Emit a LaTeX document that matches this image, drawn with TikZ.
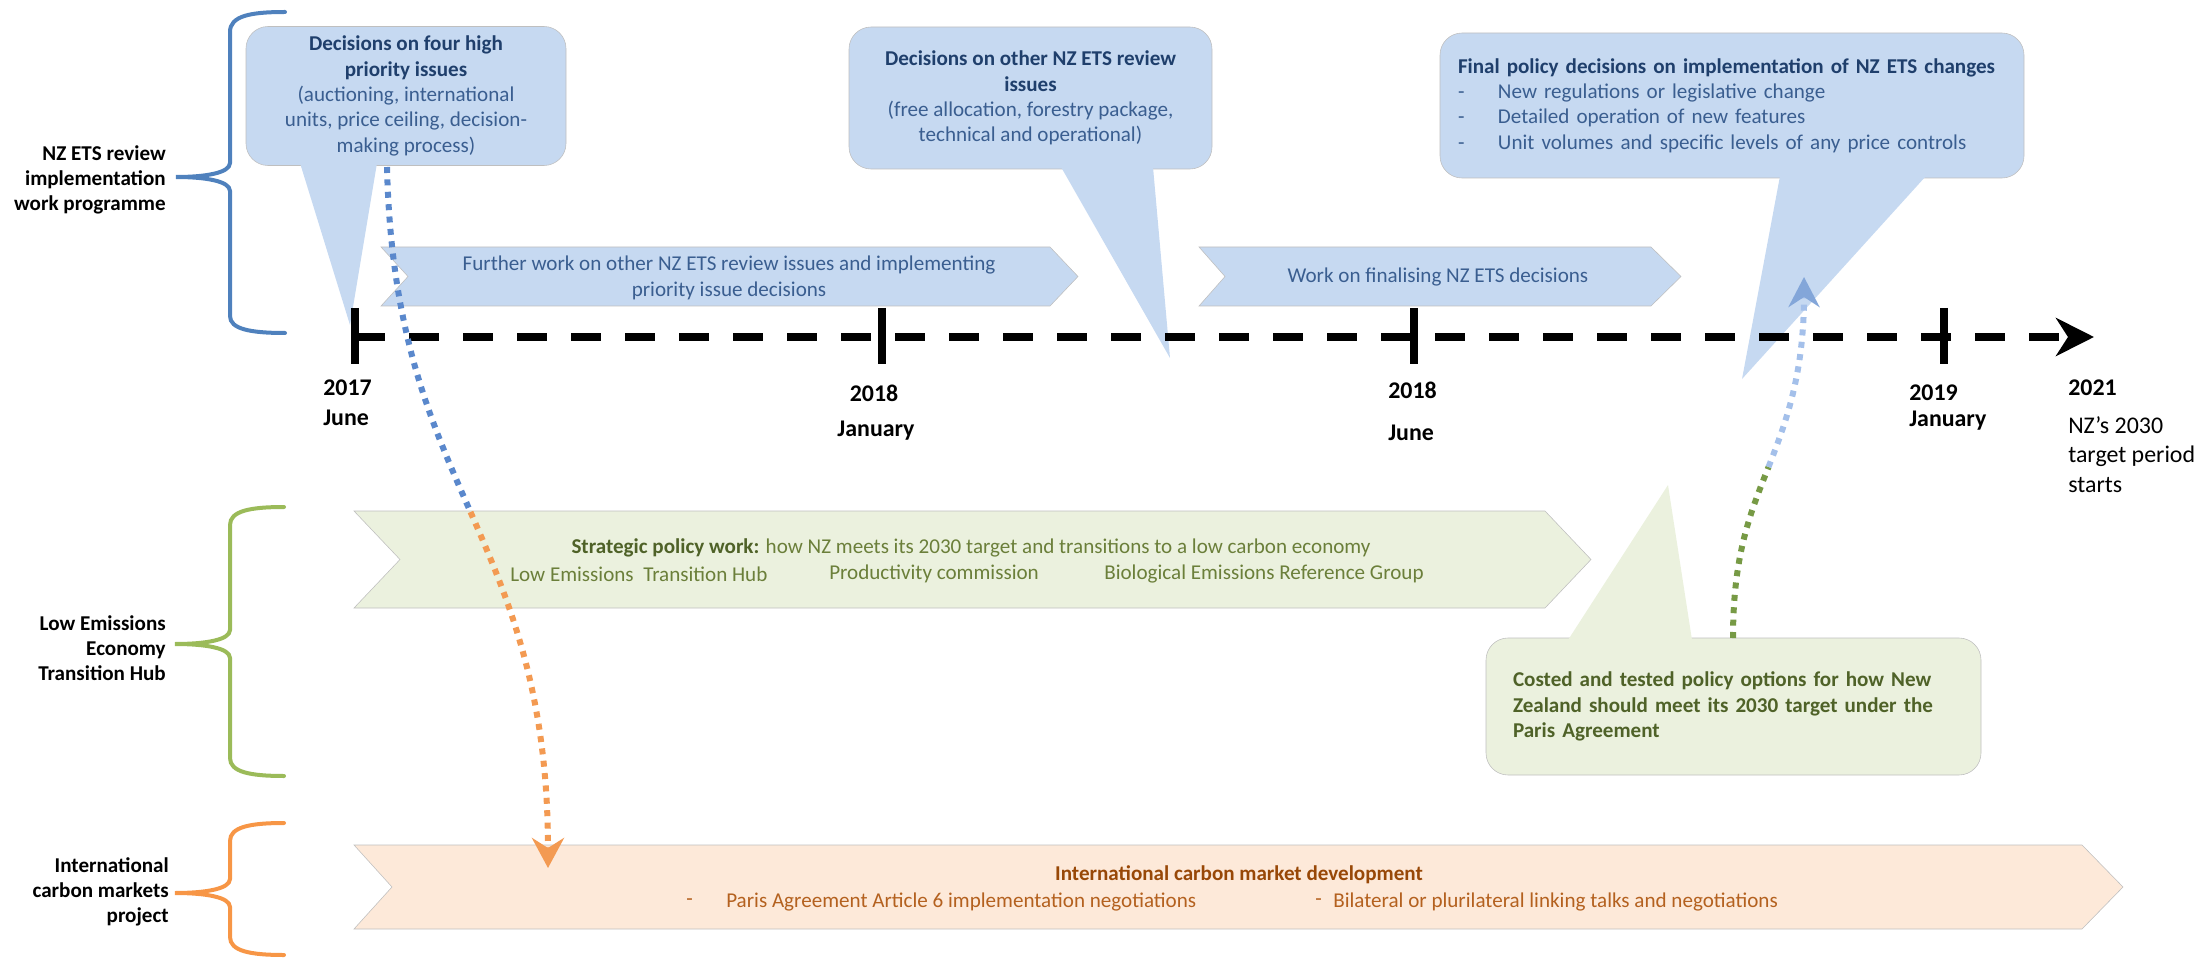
\documentclass[tikz,border=0pt]{standalone}
\usepackage{fontspec}
\setmainfont{Carlito}
\usetikzlibrary{arrows.meta, positioning}

\definecolor{boxblue}{HTML}{C6D9F1}
\definecolor{boxgreen}{HTML}{EBF1DE}
\definecolor{boxorange}{HTML}{FDE9D9}
\definecolor{textblue}{HTML}{3A5E90}
\definecolor{titleblue}{HTML}{1F3F6C}
\definecolor{textgreen}{HTML}{6B7F3A}
\definecolor{titlegreen}{HTML}{4F6228}
\definecolor{textorange}{HTML}{B4611F}
\definecolor{titleorange}{HTML}{984807}
\definecolor{braceblue}{HTML}{4F81BD}
\definecolor{bracegreen}{HTML}{9BBB59}
\definecolor{braceorange}{HTML}{F79646}
\definecolor{dotblue}{HTML}{5A88CC}
\definecolor{dotorange}{HTML}{F39A52}
\definecolor{dotgreen}{HTML}{779A45}
\definecolor{dotpale}{HTML}{A4C0EA}
\definecolor{edgegrey}{HTML}{BFBFBF}

\newcommand{\unitpx}{0.25mm}

\begin{document}
\begin{tikzpicture}[x=0.25mm, y=-0.25mm,
        % STYLES
        callout/.style={rectangle, rounded corners=5.5mm, draw=edgegrey, line width=0.4pt, inner sep=0pt},
        chevron/.style={draw=edgegrey, line width=0.4pt},
        bracket/.style={line width=1mm, line cap=round},
        body/.style={font=\fontsize{15}{18}\selectfont},
        bodybold/.style={font=\fontsize{15}{18}\selectfont\bfseries},
        datelabel/.style={font=\fontsize{17}{21}\selectfont\bfseries, inner sep=0pt},
        grouplabel/.style={font=\fontsize{15}{17.8}\selectfont\bfseries, align=right, inner sep=0pt},
        % ARROWS
        timeline/.style={line width=2mm, dash pattern=on 7.5mm off 6mm, -{Stealth[length=9.5mm, width=9.5mm, inset=3mm]}},
        tickmark/.style={line width=2mm},
        dotted_link/.style={line width=1.5mm, dash pattern=on 1.5mm off 1.6mm}
    ]
    \useasboundingbox (0,0) rectangle (2203,958);

    % ===================================
    % 1. Work streams (brackets and labels)
    % ===================================
    \draw[bracket, braceblue] (285,12) .. controls (250,12) and (230,16) .. (230,32) -- (230,163)
        .. controls (230,173) and (205,177) .. (176,177) .. controls (205,177) and (230,181) .. (230,191)
        -- (230,316) .. controls (230,329) and (250,333) .. (285,333);
    \draw[bracket, bracegreen] (284,507) .. controls (250,507) and (230,511) .. (230,525) -- (230,630)
        .. controls (230,640) and (205,644) .. (175,644) .. controls (205,644) and (230,648) .. (230,658)
        -- (230,758) .. controls (230,772) and (250,776) .. (284,776);
    \draw[bracket, braceorange] (284,823) .. controls (250,823) and (230,827) .. (230,841) -- (230,879)
        .. controls (230,889) and (205,893) .. (175,893) .. controls (205,893) and (230,897) .. (230,907)
        -- (230,937) .. controls (230,951) and (250,955) .. (284,955);

    \node[grouplabel, anchor=east] (ets) at (166,180) {NZ ETS review\\implementation\\work programme};
    \node[grouplabel, anchor=east] (hub) at (166,648) {Low Emissions\\Economy\\Transition Hub};
    \node[grouplabel, anchor=east] (icm) at (169,892) {International\\carbon markets\\project};

    % ===================================
    % 2. Decision callouts
    % ===================================
    \node[callout, fill=boxblue, minimum width=320*\unitpx, minimum height=139*\unitpx, body, text=textblue, align=center] (dec1) at (406,96)
        {\textbf{\color{titleblue}Decisions on four high}\\\textbf{\color{titleblue}priority issues}\\(auctioning, international\\units, price ceiling, decision-\\making process)};
    \fill[boxblue] (300,163) -- (350,325) -- (377,163) -- cycle;

    \node[callout, fill=boxblue, minimum width=363*\unitpx, minimum height=142*\unitpx, body, text=textblue, align=center] (dec2) at (1030.5,98)
        {\textbf{\color{titleblue}Decisions on other NZ ETS review}\\\textbf{\color{titleblue}issues}\\(free allocation, forestry package,\\technical and operational)};
    \fill[boxblue] (1061,167) -- (1170,358) -- (1153,167) -- cycle;

    \node[callout, fill=boxblue, minimum width=584*\unitpx, minimum height=145*\unitpx, body, text=textblue, align=left, text width=137mm] (dec3) at (1732,105.5)
        {\textbf{\color{titleblue}Final policy decisions on implementation of NZ ETS changes}\\
         \makebox[10mm][l]{-}New regulations or legislative change\\
         \makebox[10mm][l]{-}Detailed operation of new features\\
         \makebox[10mm][l]{-}Unit volumes and specific levels of any price controls};
    \fill[boxblue] (1780,176) -- (1742,379) -- (1926,176) -- cycle;

    \node[callout, fill=boxgreen, minimum width=495*\unitpx, minimum height=137*\unitpx, bodybold, text=titlegreen, align=left, text width=110.25mm] (costed) at (1733.5,706.5)
        {Costed and tested policy options for how New\\Zealand should meet its 2030 target under the\\Paris Agreement};
    \fill[boxgreen] (1568,640) -- (1668,485) -- (1692,640) -- cycle;

    % ===================================
    % 3. Work chevrons
    % ===================================
    \filldraw[chevron, fill=boxblue] (381,247) -- (1050,247) -- (1078,276.5) -- (1050,306) -- (381,306) -- (408,276.5) -- cycle;
    \node[font=\fontsize{15}{19}\selectfont, text=textblue, align=center] (work1) at (729,278)
        {Further work on other NZ ETS review issues and implementing\\priority issue decisions};

    \filldraw[chevron, fill=boxblue] (1199,247) -- (1651,247) -- (1681,276.5) -- (1651,306) -- (1199,306) -- (1225,276.5) -- cycle;
    \node[body, text=textblue] (work2) at (1438,277) {Work on finalising NZ ETS decisions};

    \filldraw[chevron, fill=boxgreen] (354,511) -- (1545,511) -- (1591,559.5) -- (1545,608) -- (354,608) -- (400,559.5) -- cycle;
    \node[body, text=textgreen] (strat) at (971,548)
        {\textbf{\color{titlegreen}Strategic policy work:} how NZ meets its 2030 target and transitions to a low carbon economy};
    \node[body, text=textgreen, anchor=west, inner sep=0pt] (lowhub) at (510,574) {Low Emissions\ \ Transition Hub};
    \node[body, text=textgreen, anchor=west, inner sep=0pt] (prodcom) at (829,574) {Productivity commission};
    \node[body, text=textgreen, anchor=west, inner sep=0pt] (bioref) at (1104,574) {Biological Emissions Reference Group};

    \filldraw[chevron, fill=boxorange] (354,845) -- (2082,845) -- (2123,887) -- (2082,929) -- (354,929) -- (392,887) -- cycle;
    \node[bodybold, text=titleorange] (icmdev) at (1239,875) {International carbon market development};
    \node[body, text=textorange, anchor=west, inner sep=0pt] (dash1) at (686,902) {-};
    \node[body, text=textorange, anchor=west, inner sep=0pt] (paris) at (726,902) {Paris Agreement Article 6 implementation negotiations};
    \node[body, text=textorange, anchor=west, inner sep=0pt] (dash2) at (1315,902) {-};
    \node[body, text=textorange, anchor=west, inner sep=0pt] (linking) at (1333,902) {Bilateral or plurilateral linking talks and negotiations};

    % ===================================
    % 4. Timeline
    % ===================================
    \coordinate (tstart) at (355,337);
    \coordinate (tend) at (2094,337);
    \draw[timeline] (tstart) -- (tend);
    \foreach \x in {355, 882, 1414, 1944}
        \draw[tickmark] (\x,308) -- (\x,364);

    \node[datelabel, anchor=base west] (y2017) at (323,395) {2017};
    \node[datelabel, anchor=base west] (m2017) at (323,425) {June};
    \node[datelabel, anchor=base] (y2018a) at (874,401) {2018};
    \node[datelabel, anchor=base] (m2018a) at (876,436) {January};
    \node[datelabel, anchor=base west] (y2018b) at (1388,398) {2018};
    \node[datelabel, anchor=base west] (m2018b) at (1388,440) {June};
    \node[datelabel, anchor=base west] (y2019) at (1909,400) {2019};
    \node[datelabel, anchor=base west] (m2019) at (1909,426) {January};
    \node[datelabel, anchor=base west] (y2021) at (2068,395) {2021};
    \node[font=\fontsize{17}{21}\selectfont, anchor=north west, align=left, inner sep=0pt] (target) at (2068,416)
        {NZ’s 2030\\target period\\starts};

    % ===================================
    % 5. Links between work streams
    % ===================================
    \coordinate (d1out) at (387,167);
    \coordinate (d1mid) at (470.5,512);
    \coordinate (icmin) at (548,868);
    \draw[dotted_link, dotblue] (d1out) .. controls (391,333.5) and (431,422) .. (d1mid);
    \draw[dotted_link, dotorange, -{Stealth[length=7.5mm, width=8mm, inset=2.5mm]}] (d1mid) .. controls (510,602) and (548,694) .. (icmin);

    \coordinate (costout) at (1733,638);
    \coordinate (cmid) at (1768.5,467);
    \coordinate (dec3in) at (1804,277);
    \draw[dotted_link, dotgreen] (costout) .. controls (1733,554) and (1750.75,512) .. (cmid);
    \draw[dotted_link, dotpale, -{Stealth[length=7.5mm, width=7.75mm, inset=2.5mm, color=dotblue!75]}] (cmid) .. controls (1786.25,421.75) and (1804,373.5) .. (dec3in);

\end{tikzpicture}
\end{document}
